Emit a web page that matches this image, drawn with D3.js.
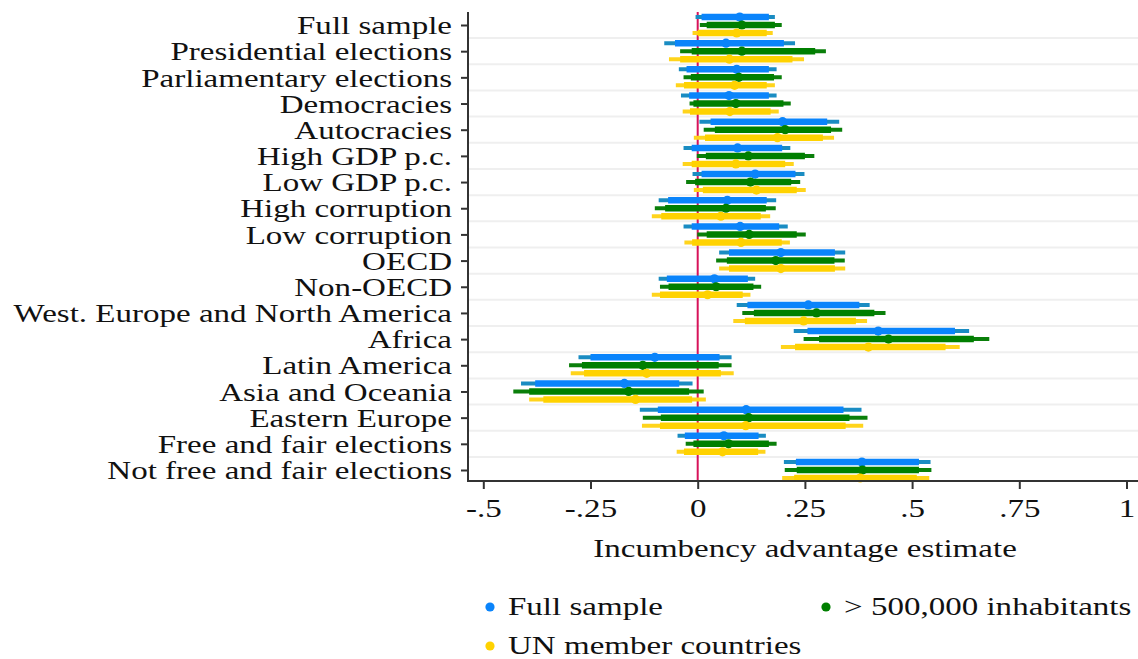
<!DOCTYPE html>
<html>
<head>
<meta charset="utf-8">
<script src="https://cdn.jsdelivr.net/npm/d3@7"></script>
<style>
  body { margin: 0; background: #fff; }
  text { font-family: "Liberation Serif", "Times New Roman", serif; fill: #111; }
</style>
</head>
<body>
<div id="container"></div>
<script>
/* DATA */
const categories = ["Full sample", "Presidential elections", "Parliamentary elections",
  "Democracies", "Autocracies", "High GDP p.c.", "Low GDP p.c.", "High corruption",
  "Low corruption", "OECD", "Non-OECD", "West. Europe and North America", "Africa",
  "Latin America", "Asia and Oceania", "Eastern Europe", "Free and fair elections",
  "Not free and fair elections"];

const seriesNames = ["Full sample", "> 500,000 inhabitants", "UN member countries"];

// point estimates
const fullEst = [0.098, 0.066, 0.091, 0.073, 0.198, 0.093, 0.134, 0.069, 0.099, 0.194, 0.039, 0.258, 0.421, -0.100, -0.171, 0.113, 0.061, 0.383];
const popEst  = [0.103, 0.103, 0.096, 0.089, 0.204, 0.118, 0.123, 0.066, 0.120, 0.182, 0.043, 0.277, 0.445, -0.128, -0.161, 0.119, 0.072, 0.384];
const unEst   = [0.091, 0.074, 0.086, 0.075, 0.186, 0.089, 0.137, 0.054, 0.101, 0.194, 0.023, 0.247, 0.398, -0.119, -0.145, 0.112, 0.058, 0.379];

// outer (95%) intervals
const fullCI95 = [[-0.005,0.180],[-0.078,0.227],[-0.044,0.184],[-0.039,0.184],[0.004,0.330],[-0.033,0.216],[-0.012,0.249],[-0.091,0.183],[-0.033,0.210],[0.050,0.344],[-0.091,0.134],[0.091,0.401],[0.224,0.633],[-0.278,0.079],[-0.412,-0.012],[-0.135,0.382],[-0.047,0.159],[0.201,0.543]];
const popCI95  = [[0.005,0.196],[-0.041,0.299],[-0.033,0.196],[-0.019,0.217],[0.014,0.337],[-0.002,0.272],[-0.027,0.239],[-0.100,0.182],[-0.001,0.252],[0.043,0.343],[-0.088,0.148],[0.104,0.438],[0.247,0.680],[-0.300,0.079],[-0.430,0.014],[-0.128,0.396],[-0.028,0.184],[0.203,0.545]];
const unCI95   = [[-0.012,0.175],[-0.067,0.248],[-0.051,0.180],[-0.035,0.189],[-0.009,0.318],[-0.035,0.224],[-0.009,0.252],[-0.107,0.169],[-0.031,0.215],[0.050,0.344],[-0.107,0.123],[0.083,0.395],[0.194,0.611],[-0.296,0.084],[-0.393,0.019],[-0.130,0.386],[-0.049,0.158],[0.197,0.540]];

// inner (90%) intervals
const fullCI90 = [[0.009,0.166],[-0.053,0.201],[-0.026,0.166],[-0.020,0.166],[0.030,0.302],[-0.014,0.197],[0.009,0.228],[-0.069,0.161],[-0.014,0.190],[0.073,0.320],[-0.072,0.117],[0.116,0.377],[0.256,0.600],[-0.250,0.051],[-0.379,-0.043],[-0.093,0.340],[-0.030,0.142],[0.229,0.516]];
const popCI90  = [[0.021,0.180],[-0.014,0.274],[-0.016,0.178],[-0.010,0.200],[0.040,0.311],[0.019,0.250],[-0.006,0.218],[-0.076,0.159],[0.021,0.231],[0.068,0.319],[-0.068,0.130],[0.131,0.412],[0.283,0.644],[-0.270,0.049],[-0.393,-0.020],[-0.086,0.354],[-0.010,0.166],[0.231,0.516]];
const unCI90   = [[0.000,0.161],[-0.041,0.221],[-0.032,0.161],[-0.018,0.170],[0.017,0.292],[-0.014,0.204],[0.012,0.231],[-0.085,0.147],[-0.013,0.196],[0.073,0.320],[-0.088,0.105],[0.110,0.369],[0.227,0.578],[-0.265,0.054],[-0.360,-0.013],[-0.088,0.345],[-0.032,0.141],[0.225,0.511]];

const xTicks = [-0.5, -0.25, 0, 0.25, 0.5, 0.75, 1];
const xTickLabels = ["-.5", "-.25", "0", ".25", ".5", ".75", "1"];

/* CONSTANTS */
const width = 1138, height = 659;
const axisX = 468, axisBottom = 481, axisTop = 12;
const fontSize = 25.5, stretch = 1.295;   // serif text widened to mimic the LaTeX font

const series = [
  {name: seriesNames[0], est: fullEst, ci95: fullCI95, ci90: fullCI90, dy: -8, main: "#0a84fb", thin: "#1a8cc2"},
  {name: seriesNames[1], est: popEst,  ci95: popCI95,  ci90: popCI90,  dy: 0,  main: "#007f00", thin: "#0a7f0a"},
  {name: seriesNames[2], est: unEst,   ci95: unCI95,   ci90: unCI90,   dy: 8,  main: "#ffd200", thin: "#ffd41c"}
];

// widen a text element horizontally around its own anchor point
function widen(sel) {
  sel.each(function() {
    const t = d3.select(this);
    const x = +t.attr("x") || 0;
    t.attr("x", x / stretch).attr("transform", `scale(${stretch},1)`);
  });
}

// SCALES
const xScale = d3.scaleLinear().domain([-0.5, 1]).range([483.3, 1126.5]);
const yScale = d3.scalePoint().domain(categories).range([25, 470]);

// SVG
const svg = d3.select("#container").append("svg")
  .attr("width", width).attr("height", height)
  .style("background", "#fff");

// gridlines between rows
const step = yScale.step();
svg.append("g").selectAll("line")
  .data(categories.slice(1))
  .join("line")
  .attr("x1", axisX).attr("x2", width)
  .attr("y1", d => yScale(d) - step / 2)
  .attr("y2", d => yScale(d) - step / 2)
  .attr("stroke", "#efefef").attr("stroke-width", 2);

// zero line
svg.append("line")
  .attr("x1", xScale(0)).attr("x2", xScale(0))
  .attr("y1", axisTop).attr("y2", axisBottom)
  .attr("stroke", "#d7135a").attr("stroke-width", 2);

// intervals and points
series.forEach(s => {
  const g = svg.append("g");
  g.selectAll(".ci95").data(s.ci95).join("line")
    .attr("x1", d => xScale(d[0])).attr("x2", d => xScale(d[1]))
    .attr("y1", (d, i) => yScale(categories[i]) + s.dy)
    .attr("y2", (d, i) => yScale(categories[i]) + s.dy)
    .attr("stroke", s.thin).attr("stroke-width", 4);
  g.selectAll(".ci90").data(s.ci90).join("line")
    .attr("x1", d => xScale(d[0])).attr("x2", d => xScale(d[1]))
    .attr("y1", (d, i) => yScale(categories[i]) + s.dy)
    .attr("y2", (d, i) => yScale(categories[i]) + s.dy)
    .attr("stroke", s.main).attr("stroke-width", 6.5);
  g.selectAll("circle").data(s.est).join("circle")
    .attr("cx", d => xScale(d))
    .attr("cy", (d, i) => yScale(categories[i]) + s.dy)
    .attr("r", 4.6)
    .attr("fill", s.main);
});

// y axis
const yAxis = svg.append("g")
  .attr("transform", `translate(${axisX},0)`)
  .call(d3.axisLeft(yScale).tickSize(7).tickPadding(9));
yAxis.select(".domain").remove();
yAxis.selectAll(".tick line").attr("stroke", "#333").attr("stroke-width", 2);
yAxis.selectAll(".tick text")
  .attr("font-family", "Liberation Serif").attr("font-size", fontSize)
  .attr("fill", "#111").attr("dy", "0.34em")
  .call(widen);
svg.append("line")
  .attr("x1", axisX).attr("x2", axisX)
  .attr("y1", axisTop).attr("y2", axisBottom + 1)
  .attr("stroke", "#333").attr("stroke-width", 2);

// x axis
const xAxis = svg.append("g")
  .attr("transform", `translate(0,${axisBottom})`)
  .call(d3.axisBottom(xScale).tickValues(xTicks)
    .tickFormat((d, i) => xTickLabels[i]).tickSize(8).tickPadding(10));
xAxis.select(".domain").remove();
xAxis.selectAll(".tick line").attr("stroke", "#333").attr("stroke-width", 2);
xAxis.selectAll(".tick text")
  .attr("font-family", "Liberation Serif").attr("font-size", fontSize).attr("fill", "#111")
  .call(widen);
svg.append("line")
  .attr("x1", axisX - 1).attr("x2", width)
  .attr("y1", axisBottom).attr("y2", axisBottom)
  .attr("stroke", "#333").attr("stroke-width", 2);

// axis title
svg.append("g").attr("transform", "translate(805,557)")
  .append("text")
  .attr("text-anchor", "middle")
  .attr("font-size", fontSize)
  .text("Incumbency advantage estimate")
  .call(widen);

// legend
const legendPos = [[490, 607], [826, 607], [490, 646]];
series.forEach((s, i) => {
  const [lx, ly] = legendPos[i];
  svg.append("circle").attr("cx", lx).attr("cy", ly).attr("r", 4.6).attr("fill", s.main);
  svg.append("g").attr("transform", `translate(${lx + 18},${ly + 8})`)
    .append("text").attr("font-size", fontSize).text(s.name)
    .call(widen);
});
</script>
</body>
</html>
